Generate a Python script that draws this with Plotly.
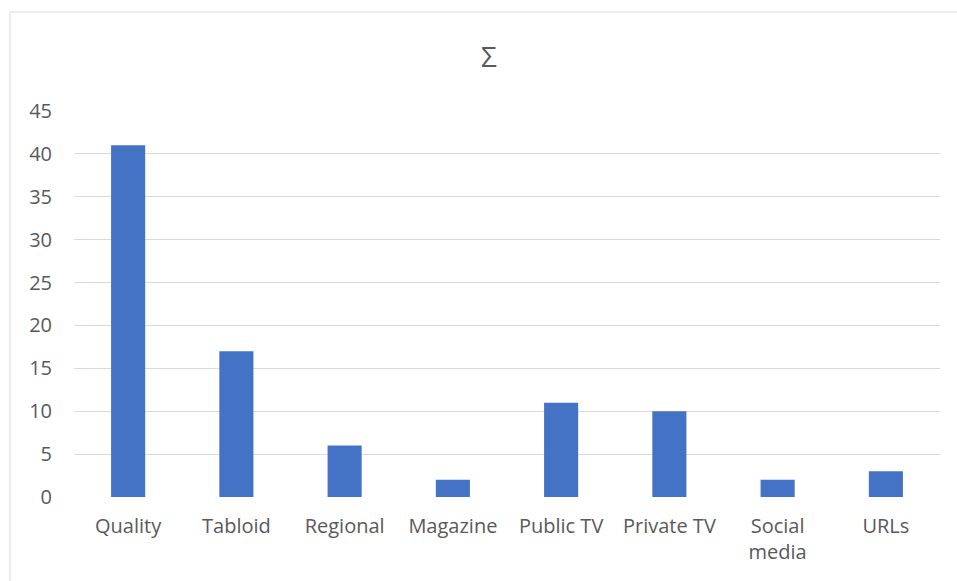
import plotly.graph_objects as go

categories = ["Quality", "Tabloid", "Regional", "Magazine", "Public TV", "Private TV", "Social<br>media", "URLs"]
values = [41, 17, 6, 2, 11, 10, 2, 3]
y_ticks = [0, 5, 10, 15, 20, 25, 30, 35, 40, 45]

W, H = 957, 581
L, R, T, B = 74, 17, 111, 84
pw, ph = W - L - R, H - T - B

fig = go.Figure(go.Bar(x=categories, y=values, marker=dict(color="#4472C4", line=dict(width=0))))

def px_x(x):
    return (x - L) / pw

def px_y(y):
    return (H - B - y) / ph

border = "#D9D9D9"
fig.add_shape(type="line", xref="paper", yref="paper", x0=px_x(10), x1=px_x(1000), y0=px_y(12), y1=px_y(12),
              line=dict(color=border, width=1))
fig.add_shape(type="line", xref="paper", yref="paper", x0=px_x(10), x1=px_x(10), y0=px_y(12), y1=px_y(620),
              line=dict(color=border, width=1))

fig.update_layout(
    width=W, height=H,
    margin=dict(l=L, r=R, t=T, b=B),
    paper_bgcolor="white", plot_bgcolor="white",
    bargap=0.685,
    showlegend=False,
    font=dict(family="Open Sans, Liberation Sans, sans-serif", color="#595959", size=20),
    title=dict(text="Σ", x=489 / W, xanchor="center", y=1 - 57 / H, yanchor="middle",
               font=dict(size=28, color="#595959")),
)
fig.update_xaxes(showgrid=False, showline=False, zeroline=False, ticks="outside", ticklen=11,
                 tickcolor="rgba(0,0,0,0)", tickfont=dict(size=20))
fig.update_yaxes(range=[0, 45], tickvals=y_ticks, showgrid=True, gridcolor=border, gridwidth=1,
                 zeroline=False, showline=False, ticks="outside", ticklen=17,
                 tickcolor="rgba(0,0,0,0)", tickfont=dict(size=20))

fig.write_html("out.html")
